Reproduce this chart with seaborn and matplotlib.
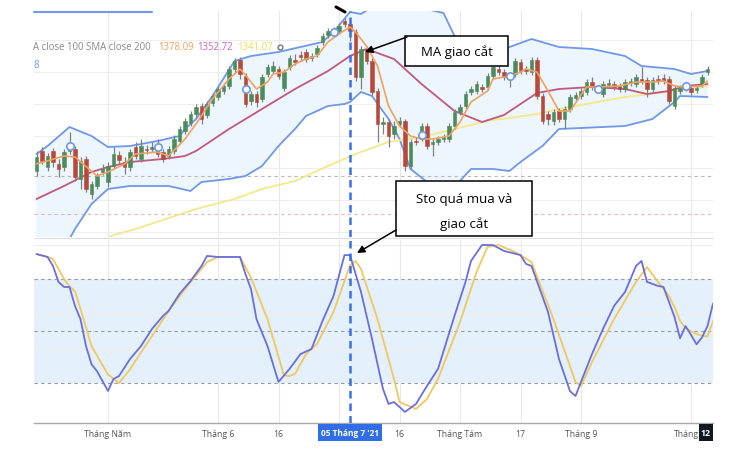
import numpy as np
import matplotlib
matplotlib.use("Agg")
import matplotlib.pyplot as plt
import seaborn as sns
from matplotlib.patches import Rectangle, FancyArrowPatch
from matplotlib.lines import Line2D

# ---------------- data ----------------
opens = [1268,1288,1272,1288,1275,1272,1288,1290,1260,1280,
         1245,1253,1267,1257,1273,1284,1277,1272,1292,1280,
         1290,1290,1288,1287,1283,1288,1298,1308,1316,1325,
         1333,1324,1336,1342,1348,1353,1370,1379,1363,1338,
         1345,1340,1365,1368,1370,1351,1372,1379,1384,1387,
         1381,1385,1397,1404,1407,1408,1418,1415,1407,1362,
         1390,1378,1348,1315,1317,1305,1315,1318,1273,1298,
         1300,1313,1295,1297,1300,1300,1313,1327,1333,1347,
         1348,1352,1352,1363,1370,1367,1364,1365,1377,1370,
         1367,1379,1343,1325,1318,1328,1320,1330,1341,1343,
         1347,1357,1350,1345,1354,1355,1353,1350,1356,1355,
         1360,1359,1350,1360,1361,1360,1333,1348,1351,1351,
         1349,1355,1367]
highs = [1288,1292,1286,1291,1280,1290,1307,1293,1282,1283,
         1258,1266,1275,1277,1292,1288,1282,1290,1297,1300,
         1294,1297,1300,1290,1293,1304,1313,1321,1328,1335,
         1336,1338,1346,1353,1356,1373,1381,1382,1366,1348,
         1348,1365,1375,1378,1373,1370,1384,1385,1388,1390,
         1386,1394,1406,1411,1412,1416,1421,1418,1410,1393,
         1393,1381,1351,1322,1320,1318,1322,1320,1300,1302,
         1316,1316,1300,1303,1305,1316,1330,1335,1348,1353,
         1358,1355,1366,1375,1374,1370,1367,1381,1380,1373,
         1382,1382,1346,1328,1330,1331,1333,1345,1347,1351,
         1360,1362,1354,1358,1360,1358,1356,1360,1361,1365,
         1372,1362,1362,1364,1365,1363,1354,1354,1356,1354,
         1354,1365,1373]
lows = [1263,1275,1268,1272,1262,1268,1285,1258,1250,1247,
        1240,1250,1264,1252,1270,1275,1265,1268,1280,1277,
        1285,1287,1282,1277,1280,1285,1295,1305,1313,1322,
        1315,1321,1333,1339,1345,1350,1367,1360,1332,1334,
        1332,1337,1362,1365,1360,1348,1369,1374,1378,1377,
        1378,1382,1394,1401,1404,1405,1412,1398,1358,1350,
        1375,1344,1297,1305,1292,1300,1312,1268,1270,1294,
        1298,1290,1283,1294,1297,1297,1310,1324,1330,1344,
        1345,1347,1349,1360,1364,1359,1352,1362,1365,1365,
        1364,1340,1315,1314,1314,1317,1310,1327,1338,1340,
        1344,1349,1347,1342,1351,1349,1347,1347,1353,1352,
        1355,1342,1347,1355,1355,1335,1330,1345,1348,1344,
        1346,1352,1364]
closes = [1282,1278,1283,1277,1270,1287,1290,1262,1278,1250,
          1255,1263,1270,1273,1285,1279,1272,1287,1283,1293,
          1289,1292,1285,1280,1290,1300,1310,1318,1325,1332,
          1320,1335,1343,1350,1353,1370,1378,1365,1335,1345,
          1337,1362,1372,1373,1363,1367,1381,1377,1382,1380,
          1383,1391,1403,1408,1409,1413,1415,1408,1362,1390,
          1378,1347,1315,1317,1303,1313,1318,1273,1297,1297,
          1313,1293,1297,1300,1302,1313,1327,1332,1345,1350,
          1355,1350,1363,1372,1367,1362,1363,1378,1368,1368,
          1379,1343,1318,1320,1327,1320,1330,1342,1344,1348,
          1357,1352,1351,1355,1356,1352,1350,1357,1358,1362,
          1358,1350,1359,1358,1358,1338,1351,1351,1353,1347,
          1351,1362,1370]

ma_fast_idx = [0,5,7,11,13,16,18,22,24,27,29,32,35,37,38,40,42,43,45,47,49,51,53,55,57,
               58,60,62,64,66,68,70,72,75,77,79,82,83,86,88,89,91,93,95,97,100,102,106,
               109,112,114,116,118,121,122]
ma_fast_val = [1275,1283,1282,1263,1267,1275,1285,1287,1283,1300,1315,1340,1360,1370,1364,
               1350,1357,1365,1367,1375,1380,1383,1397,1405,1412,1407,1393,1373,1333,1313,
               1303,1300,1300,1303,1317,1337,1348,1360,1363,1367,1370,1367,1348,1328,1328,
               1352,1352,1353,1357,1357,1358,1353,1352,1353,1358]

ma_mid_idx = [0,5,10,13,17,23,27,29,35,41,47,53,57,60,65,70,76,81,85,91,95,101,107,111,115,118,122]
ma_mid_val = [1240,1253,1267,1272,1277,1280,1283,1288,1310,1330,1350,1368,1383,1390,1380,
              1355,1328,1317,1324,1346,1350,1352,1350,1345,1348,1353,1355]

ma_slow_idx = [12,14,18,29,36,41,47,53,58,60,64,70,76,82,91,95,107,119,122]
ma_slow_val = [1198,1204,1210,1230,1240,1250,1258,1273,1285,1289,1297,1302,1310,1318,1325,
               1330,1342,1350,1353]

band_up_idx = [0,2,6,10,13,17,22,26,27,29,32,36,39,44,48,52,54,57,59,61,64,68,72,74,76,80,
               84,85,90,95,101,107,110,116,119,122]
band_up_val = [1285,1293,1312,1303,1292,1293,1298,1303,1310,1320,1343,1378,1383,1387,1392,
               1397,1407,1427,1425,1432,1445,1450,1440,1426,1403,1385,1388,1390,1400,1392,
               1390,1383,1373,1370,1365,1368]

band_lo_idx = [0,4,7,10,13,17,24,28,30,35,38,41,44,47,49,53,56,57,59,61,64,66,68,71,74,77,
               79,83,86,88,92,95,107,112,116,117,122]
band_lo_val = [1150,1180,1210,1235,1250,1253,1253,1248,1257,1260,1263,1273,1293,1310,1323,
               1333,1335,1337,1347,1343,1320,1300,1270,1257,1240,1258,1270,1270,1268,1277,
               1293,1310,1313,1320,1337,1343,1342]

marker_idx = [6,22,38,54,70,86,102,118]
marker_val = [1293,1292,1350,1407,1304,1363,1350,1353]

k_idx = [0,2,3,4,5,6,7,8,9,10,11,13,14,15,17,19,21,23,24,26,28,30,31,33,37,38,39,40,42,44,
         46,48,50,52,54,56,57,59,61,63,64,65,67,69,71,73,76,78,79,81,83,85,88,89,90,93,95,
         97,98,99,101,103,105,107,109,110,111,113,114,116,117,118,119,120,121,122,123]
k_val = [94.6,92.9,87.7,78.5,75.6,75.6,64.6,57,41.5,31,27,15.6,22.5,24.2,34,41.5,51.4,58.9,
         61.7,71.6,79,87.7,93.5,92.9,92.9,83,74.4,57,41.5,20.8,28.3,36.9,39.8,56,70.4,94,94,
         72.7,45.6,16.7,8.1,9.2,3.5,8.1,18.5,28.3,58.9,78.5,90.6,99.8,99.8,96.4,94,88.9,87.7,
         61.2,34,15.5,12.7,20.8,36.9,51.4,64.6,72.7,87.7,90.6,78.5,76.2,75.6,58.3,46,53,48,
         42.5,46.5,53,66]

d_idx = [0,2,3,5,6,7,8,10,13,15,17,18,21,24,27,31,33,37,39,42,45,46,47,49,51,54,57,58,59,
         62,65,66,69,71,73,77,80,82,84,87,90,94,98,99,101,105,109,111,113,115,116,117,118,
         119,120,121,122,123]
d_val = [94.6,93,91.7,80.2,76,73,62.9,41.5,25,20.2,28,33,47.3,61.7,74.4,90,92.9,92.9,81,57,
         24.5,24.2,25.4,36.9,42.7,61.2,88,90.6,86,57,22.5,9.2,5.2,11,22.5,55.4,84.2,98.7,99.8,
         95.8,90,57,20.8,18.5,32.3,57,78.5,87.1,78.5,70.4,64,56,52,50,48.5,47.5,47,56]

tick_pos = [13, 33, 44, 66, 77, 88, 99, 118.2]
tick_labels = ["Tháng Năm", "Tháng 6", "16", "16", "Tháng Tám", "17", "Tháng 9", "Tháng"]
grid_pos = [13, 33, 44, 55, 66, 77, 88, 99, 119]
cross_idx = 57
legend_values = ["1378.09", "1352.72", "1341.07"]

# ---------------- style ----------------
sns.set_theme(style="white")
plt.rcParams['font.family'] = ['Open Sans', 'Noto Sans', 'DejaVu Sans']

W, H = 745, 452
fig = plt.figure(figsize=(W / 100, H / 100), dpi=100)
fig.patch.set_facecolor("white")

def fx(x):
    return x / W

def fy(y):
    return 1 - y / H

X0, X1 = 34, 713
ax = fig.add_axes([fx(X0), fy(238), (X1 - X0) / W, (238 - 12) / H])
ax2 = fig.add_axes([fx(X0), fy(424), (X1 - X0) / W, (424 - 241) / H])

xlim = ((X0 - 36.5) / 5.5, (X1 - 36.5) / 5.5)
for a in (ax, ax2):
    a.set_xlim(*xlim)
    a.set_facecolor("white")
    for s in a.spines.values():
        s.set_visible(False)
    a.set_yticks([])
    for g in grid_pos:
        a.axvline(g, color="#e8e8e8", lw=0.8, zorder=0)

ax.set_ylim(1202, 1428)
ax2.set_ylim(-2.9, 102.7)
ax.set_xticks([])

# top panel grid
for gy in [1399, 1367, 1335, 1303, 1271, 1239, 1207]:
    ax.axhline(gy, color="#eeeeee", lw=0.8, zorder=0)
ax.axhline(1263, color="#b8b8b8", lw=0.8, dashes=(3, 3), zorder=0.6)
ax.axhline(1225, color="#f0b4b4", lw=0.8, dashes=(3, 3), zorder=0.6)

# Bollinger fill + bands
ax.fill(np.r_[band_up_idx, band_lo_idx[::-1]], np.r_[band_up_val, band_lo_val[::-1]],
        color="#edf5fd", zorder=0.5, lw=0)
sns.lineplot(x=band_up_idx, y=band_up_val, ax=ax, color="#6f98e8", lw=1.3,
             estimator=None, sort=False, legend=False, zorder=2)
sns.lineplot(x=band_lo_idx, y=band_lo_val, ax=ax, color="#6f98e8", lw=1.3,
             estimator=None, sort=False, legend=False, zorder=2)
sns.lineplot(x=ma_slow_idx, y=ma_slow_val, ax=ax, color="#f3e88c", lw=1.3,
             estimator=None, sort=False, legend=False, zorder=2)
sns.lineplot(x=ma_mid_idx, y=ma_mid_val, ax=ax, color="#c2587e", lw=1.3,
             estimator=None, sort=False, legend=False, zorder=2)

# candles
o = np.array(opens, float); c = np.array(closes, float)
h = np.array(highs, float); l = np.array(lows, float)
idx = np.arange(len(o))
up = c >= o
colors = np.where(up, "#4a8c5c", "#b54a3c")
ax.vlines(idx, l, h, color="#808080", lw=0.9, zorder=3)
body_lo = np.minimum(o, c)
body_h = np.maximum(np.abs(c - o), 1.3)
ax.bar(idx, body_h, bottom=body_lo, width=0.72, color=colors, edgecolor=colors,
       lw=0.4, zorder=4)

sns.lineplot(x=ma_fast_idx, y=ma_fast_val, ax=ax, color="#f0a262", lw=1.2,
             estimator=None, sort=False, legend=False, zorder=5)
sns.scatterplot(x=marker_idx, y=marker_val, ax=ax, s=28, color="white",
                edgecolor="#6f98e8", linewidth=1.2, zorder=6, legend=False)

# stochastic panel
ax2.axhspan(20, 80, color="#e4f0fb", zorder=0, lw=0)
for gy in [40, 60, 100]:
    ax2.axhline(gy, color="#eeeeee", lw=0.8, zorder=0.5)
for gy in [20, 50, 80]:
    ax2.axhline(gy, color="#9a9a9a", lw=0.8, dashes=(3, 3), zorder=0.6)
sns.lineplot(x=d_idx, y=d_val, ax=ax2, color="#f0c862", lw=1.3,
             estimator=None, sort=False, legend=False, zorder=2)
sns.lineplot(x=k_idx, y=k_val, ax=ax2, color="#6a6fdc", lw=1.3,
             estimator=None, sort=False, legend=False, zorder=3)
ax2.spines["bottom"].set_visible(True)
ax2.spines["bottom"].set_color("#a8a8a8")
ax2.spines["bottom"].set_linewidth(1.0)
ax2.set_xticks(tick_pos)
ax2.set_xticklabels(tick_labels)
ax2.tick_params(axis="x", length=0, pad=4.5, labelsize=6.3, colors="#555555")
ax.set_xlabel(""); ax.set_ylabel(""); ax2.set_xlabel(""); ax2.set_ylabel("")

# crosshair
for a in (ax, ax2):
    a.axvline(cross_idx, color="#3b6fe6", lw=1.8, dashes=(3, 2), zorder=7)

# separator between panes
fig.add_artist(Line2D([fx(X0), fx(X1)], [fy(238.5), fy(238.5)], color="#dedede", lw=0.8))

# legend-like header texts
fig.add_artist(Line2D([fx(34), fx(152)], [fy(13), fy(13)], color="#7099e6", lw=1.5))
fig.text(fx(33), fy(48), "A close 100 SMA close 200", fontsize=6.9, color="#8a8a8a",
         ha="left", va="center")
for xv, txt, col in zip([158, 197, 237], legend_values, ["#f0a262", "#c466c4", "#ecdc55"]):
    fig.text(fx(xv), fy(48), txt, fontsize=6.9, color=col, ha="left", va="center")
fig.add_artist(Line2D([fx(280)], [fy(48)], marker="o", markersize=3.5,
                      markerfacecolor="none", markeredgecolor="#777777", lw=0))
fig.text(fx(34), fy(65), "8", fontsize=6.9, color="#6f98e8", ha="left", va="center")
fig.add_artist(Line2D([fx(336), fx(345)], [fy(8), fy(13)], color="black", lw=2.2))

# annotation boxes
ann_font = ['Open Sans', 'Noto Sans', 'DejaVu Sans']
fig.add_artist(Rectangle((fx(405), fy(67)), (508 - 405) / W, (67 - 37) / H,
                         transform=fig.transFigure, facecolor="white",
                         edgecolor="black", lw=1.1, zorder=8))
fig.text(fx(456.5), fy(52), "MA giao cắt", fontsize=9.5, color="black", ha="center",
         va="center", family=ann_font, zorder=9)
fig.add_artist(FancyArrowPatch((fx(407), fy(38)), (fx(365), fy(53)),
                               transform=fig.transFigure, arrowstyle="-|>",
                               mutation_scale=11, color="black", lw=1.1, zorder=9,
                               shrinkA=0, shrinkB=0))

fig.add_artist(Rectangle((fx(396), fy(237)), (532 - 396) / W, (237 - 182) / H,
                         transform=fig.transFigure, facecolor="white",
                         edgecolor="black", lw=1.1, zorder=8))
fig.text(fx(464), fy(200), "Sto quá mua và", fontsize=9.5, color="black", ha="center",
         va="center", family=ann_font, zorder=9)
fig.text(fx(464), fy(224), "giao cắt", fontsize=9.5, color="black", ha="center",
         va="center", family=ann_font, zorder=9)
fig.add_artist(FancyArrowPatch((fx(396), fy(231)), (fx(357), fy(254)),
                               transform=fig.transFigure, arrowstyle="-|>",
                               mutation_scale=11, color="black", lw=1.1, zorder=9,
                               shrinkA=0, shrinkB=0))

# crosshair date label and right-edge price label
fig.add_artist(Rectangle((fx(318), fy(442)), (382 - 318) / W, (442 - 425) / H,
                         transform=fig.transFigure, facecolor="#2f6ee6",
                         edgecolor="none", zorder=8))
fig.text(fx(350), fy(433.5), "05 Tháng 7 '21", fontsize=6.0, color="white",
         ha="center", va="center", weight="bold", zorder=9)
fig.add_artist(Rectangle((fx(699), fy(442)), (713 - 699) / W, (442 - 425) / H,
                         transform=fig.transFigure, facecolor="#131722",
                         edgecolor="none", zorder=8))
fig.text(fx(706), fy(433.5), "12", fontsize=6.3, color="white",
         ha="center", va="center", weight="bold", zorder=9)

fig.savefig("out.png", dpi=100)
